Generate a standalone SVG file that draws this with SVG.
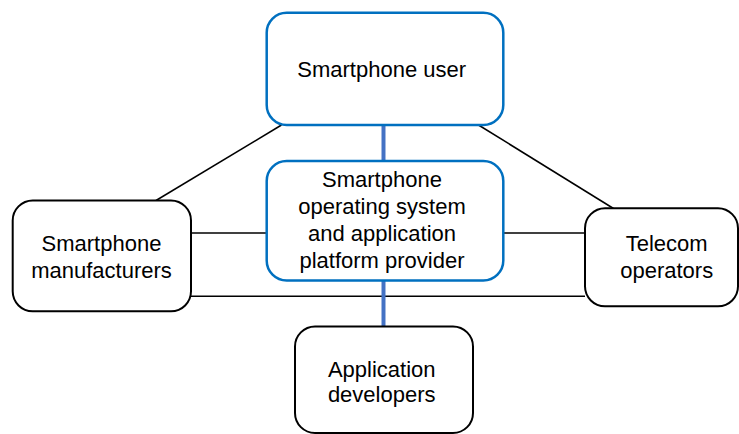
<svg xmlns="http://www.w3.org/2000/svg" width="739" height="434" viewBox="0 0 739 434">
<style>
.bn{fill:#fff;stroke:#0070C0;stroke-width:2.5}
.kn{fill:#fff;stroke:#000;stroke-width:2}
.t{font-family:"Liberation Sans",Arial,sans-serif;font-size:22px;fill:#000;text-anchor:middle}
.ln{stroke:#000;stroke-width:1.5;fill:none}
.bl{stroke:#4472C4;stroke-width:4;fill:none}
</style>
<rect width="739" height="434" fill="#fff"/>
<g id="connectors">
<line class="ln" x1="281.5" y1="125" x2="156" y2="200.5"/>
<line class="ln" x1="478.5" y1="125" x2="613.5" y2="208.5"/>
<line class="ln" x1="191" y1="233" x2="266.7" y2="233"/>
<line class="ln" x1="503.3" y1="233" x2="585" y2="233"/>
<line class="ln" x1="191" y1="296.3" x2="585" y2="296.3"/>
<line class="bl" x1="383.5" y1="125" x2="383.5" y2="161"/>
<line class="bl" x1="383.5" y1="280.5" x2="383.5" y2="326.5"/>
</g>
<g id="user">
<rect class="bn" x="266.7" y="12.7" width="236.6" height="112.3" rx="20"/>
<text class="t" x="381.7" y="76.5">Smartphone user</text>
</g>
<g id="platform">
<rect class="bn" x="266.7" y="161" width="236.6" height="119.5" rx="20"/>
<text class="t" x="382" y="187">Smartphone</text>
<text class="t" x="382" y="213.5">operating system</text>
<text class="t" x="382" y="241">and application</text>
<text class="t" x="382" y="267.5">platform provider</text>
</g>
<g id="manufacturers">
<rect class="kn" x="12.7" y="200.5" width="178.3" height="110.8" rx="20"/>
<text class="t" x="101.5" y="250.5">Smartphone</text>
<text class="t" x="101.5" y="278.3">manufacturers</text>
</g>
<g id="telecom">
<rect class="kn" x="585" y="208.3" width="153" height="98" rx="20"/>
<text class="t" x="666.7" y="250.5">Telecom</text>
<text class="t" x="666.7" y="278.3">operators</text>
</g>
<g id="developers">
<rect class="kn" x="295" y="326.5" width="178" height="106.5" rx="20"/>
<text class="t" x="381.7" y="377">Application</text>
<text class="t" x="381.7" y="402">developers</text>
</g>
</svg>
